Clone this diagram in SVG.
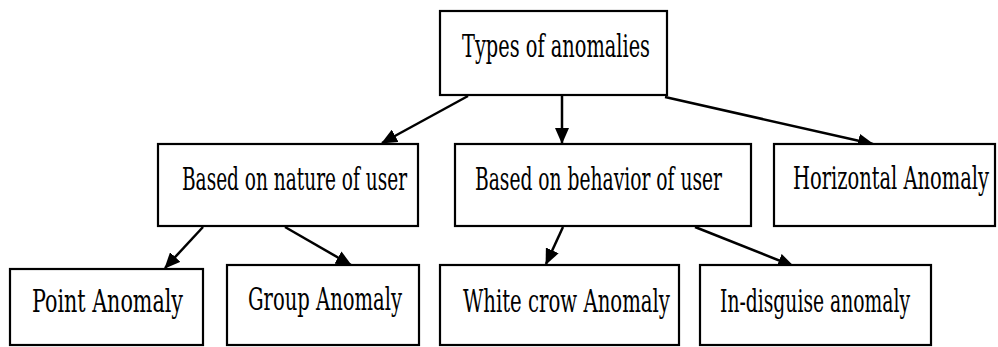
<svg xmlns="http://www.w3.org/2000/svg" width="998" height="347" viewBox="0 0 998 347">
  <defs>
    <marker id="arrow" markerUnits="userSpaceOnUse" markerWidth="16" markerHeight="14" refX="15" refY="7" orient="auto">
      <path d="M0,0 L16,7 L0,14 z" fill="#000"/>
    </marker>
    <style>
      .box { fill: #fff; stroke: #000; stroke-width: 2.2; }
      .lbl { font-family: "DejaVu Serif Condensed", "DejaVu Serif", "Liberation Serif", serif; font-size: 32px; fill: #000; }
      .edge { stroke: #000; stroke-width: 2.5; fill: none; marker-end: url(#arrow); }
    </style>
  </defs>
  <rect width="998" height="347" fill="#fff"/>

  <g id="connectors">
    <line class="edge" x1="468" y1="96" x2="382" y2="143"/>
    <line class="edge" x1="562" y1="96" x2="562" y2="143"/>
    <line class="edge" x1="665" y1="97" x2="873" y2="144"/>
    <line class="edge" x1="203" y1="227" x2="165" y2="268"/>
    <line class="edge" x1="285" y1="227" x2="351" y2="265"/>
    <line class="edge" x1="563" y1="227" x2="546" y2="264"/>
    <line class="edge" x1="695" y1="227" x2="793" y2="266"/>
  </g>

  <!-- labels are drawn in a horizontally narrowed frame -->
  <g id="types">
    <rect class="box" x="440" y="11" width="227" height="84"/>
    <text class="lbl" transform="translate(462,57) scale(0.75,1)" x="0" y="0" textLength="250.7" lengthAdjust="spacingAndGlyphs">Types of anomalies</text>
  </g>
  <g id="nature">
    <rect class="box" x="158" y="144" width="260" height="82"/>
    <text class="lbl" transform="translate(182,190) scale(0.75,1)" x="0" y="0" textLength="300" lengthAdjust="spacingAndGlyphs">Based on nature of user</text>
  </g>
  <g id="behavior">
    <rect class="box" x="455" y="144" width="296" height="82"/>
    <text class="lbl" transform="translate(475,190) scale(0.75,1)" x="0" y="0" textLength="329.3" lengthAdjust="spacingAndGlyphs">Based on behavior of user</text>
  </g>
  <g id="horizontal">
    <rect class="box" x="774" y="144" width="221" height="82"/>
    <text class="lbl" transform="translate(793,189) scale(0.66,1)" x="0" y="0" textLength="297" lengthAdjust="spacingAndGlyphs">Horizontal Anomaly</text>
  </g>
  <g id="point">
    <rect class="box" x="10" y="269" width="193" height="76"/>
    <text class="lbl" transform="translate(32,312) scale(0.75,1)" x="0" y="0" textLength="201.3" lengthAdjust="spacingAndGlyphs">Point Anomaly</text>
  </g>
  <g id="group">
    <rect class="box" x="227" y="265" width="192" height="80"/>
    <text class="lbl" transform="translate(248,310) scale(0.75,1)" x="0" y="0" textLength="205.3" lengthAdjust="spacingAndGlyphs">Group Anomaly</text>
  </g>
  <g id="whitecrow">
    <rect class="box" x="440" y="265" width="239" height="80"/>
    <text class="lbl" transform="translate(463,312) scale(0.75,1)" x="0" y="0" textLength="276" lengthAdjust="spacingAndGlyphs">White crow Anomaly</text>
  </g>
  <g id="indisguise">
    <rect class="box" x="700" y="265" width="231" height="80"/>
    <text class="lbl" transform="translate(720,312) scale(0.75,1)" x="0" y="0" textLength="253.3" lengthAdjust="spacingAndGlyphs">In-disguise anomaly</text>
  </g>
</svg>
